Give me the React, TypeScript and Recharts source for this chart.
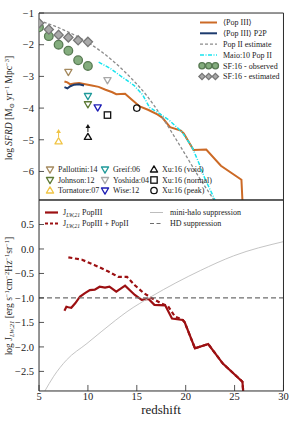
import React from 'react';
import { ComposedChart, Line, Scatter, XAxis, YAxis, ReferenceLine } from 'recharts';

const FONT = "'Liberation Serif', 'DejaVu Serif', serif";
const INK = '#2b2b2b';

const ORANGE = '#cc6a26';
const NAVY = '#1d3b6e';
const GREY_DASH = '#8c8c8c';
const CYAN = '#18e4ee';
const RED = '#9c1012';
const MINIHALO = '#bdbdbd';
const HD_GREY = '#6e6e6e';

// redshift axis, shared by both panels
const Z_DOMAIN = [5, 30];
const Z_MAJOR = [5, 10, 15, 20, 25, 30];
const Z_MINOR = [6, 7, 8, 9, 11, 12, 13, 14, 16, 17, 18, 19, 21, 22, 23, 24, 26, 27, 28, 29];

const steps = (from: number, to: number, step: number) => {
  const out: number[] = [];
  for (let i = 0; from + i * step <= to + 1e-9; i++) out.push(+(from + i * step).toFixed(2));
  return out;
};

// top panel: log SFRD
const SFRD_DOMAIN = [-6.9, -1];
const SFRD_MAJOR = [-6, -5, -4, -3, -2, -1];
const SFRD_MINOR = steps(-6.8, -1.2, 0.2);

// bottom panel: log J_LW,21
const J_DOMAIN = [-2.9, 1.0];
const J_MAJOR = [-2.5, -2, -1.5, -1, -0.5, 0, 0.5];
const J_MINOR = steps(-2.9, 1.0, 0.1);
const HD_LEVEL = -1.0;

// <Pop III>
const popIII = [
  { z: 7.6, v: -3.16 }, { z: 7.9, v: -3.19 }, { z: 8.2, v: -3.25 }, { z: 8.6, v: -3.22 },
  { z: 9.1, v: -3.21 }, { z: 9.6, v: -3.24 }, { z: 10.4, v: -3.29 }, { z: 11.1, v: -3.33 },
  { z: 11.8, v: -3.42 }, { z: 12.5, v: -3.5 }, { z: 12.9, v: -3.56 }, { z: 13.8, v: -3.55 },
  { z: 14.5, v: -3.74 }, { z: 15.3, v: -3.95 }, { z: 16.2, v: -4.06 }, { z: 17.1, v: -4.2 },
  { z: 17.6, v: -4.3 }, { z: 18.4, v: -4.6 }, { z: 19.5, v: -4.71 }, { z: 19.8, v: -4.8 },
  { z: 20.8, v: -5.32 }, { z: 22.1, v: -5.31 }, { z: 23.6, v: -5.82 }, { z: 25.7, v: -6.26 },
  { z: 25.8, v: -6.9 },
];
// <Pop III> P2P
const popIIIp2p = [
  { z: 7.6, v: -3.34 }, { z: 7.9, v: -3.38 }, { z: 8.2, v: -3.31 }, { z: 8.6, v: -3.26 },
  { z: 9.1, v: -3.25 }, { z: 9.6, v: -3.29 },
];
// Pop II estimate
const popIIEstimate = [
  { z: 5, v: -1.24 }, { z: 6.5, v: -1.4 }, { z: 8, v: -1.6 }, { z: 9.6, v: -1.86 },
  { z: 11.3, v: -2.2 }, { z: 12.7, v: -2.55 }, { z: 14.5, v: -3.08 }, { z: 16, v: -3.6 },
  { z: 17.4, v: -4.2 }, { z: 19.6, v: -5.28 }, { z: 21.3, v: -6.15 }, { z: 22.9, v: -6.9 },
];
// Maio:10 Pop II
const maio10 = [
  { z: 11.1, v: -2.55 }, { z: 12.3, v: -2.75 }, { z: 13.5, v: -3.02 }, { z: 14.7, v: -3.28 },
  { z: 15.6, v: -3.58 }, { z: 16.3, v: -3.98 }, { z: 17.2, v: -4.15 }, { z: 18.3, v: -4.38 },
  { z: 19.6, v: -4.75 }, { z: 20.6, v: -5.2 }, { z: 21.2, v: -5.62 }, { z: 22.0, v: -6.25 },
  { z: 23.0, v: -6.9 },
];
const sf16Observed = [
  { z: 5, v: -1.45 }, { z: 6, v: -1.73 }, { z: 7, v: -2.0 }, { z: 8, v: -2.19 }, { z: 9, v: -2.49 }, { z: 10, v: -2.67 },
];
const sf16Estimated = [
  { z: 5, v: -1.32 }, { z: 6, v: -1.52 }, { z: 7, v: -1.69 }, { z: 8, v: -1.77 }, { z: 9, v: -1.86 }, { z: 10, v: -1.91 },
];
const pallottini14 = [{ z: 8, v: -2.86 }];
const johnson12 = [{ z: 10, v: -3.88 }];
const tornatore07 = [{ z: 7, v: -5.05 }];
const tornatore07Arrow = [{ z: 7, v: -4.66 }];
const greif06 = [{ z: 10, v: -3.62 }];
const yoshida04 = [{ z: 12, v: -3.12 }];
const wise12 = [{ z: 11, v: -3.98 }];
const xuVoid = [{ z: 10, v: -4.91 }];
const xuVoidArrow = [{ z: 10, v: -4.5 }];
const xuNormal = [{ z: 12, v: -4.22 }];
const xuPeak = [{ z: 15, v: -4.0 }];

// J_LW,21 PopIII
const jPopIII = [
  { z: 7.6, v: -1.26 }, { z: 7.8, v: -1.18 }, { z: 8.0, v: -1.19 }, { z: 8.3, v: -1.2 },
  { z: 8.7, v: -1.11 }, { z: 9.2, v: -0.97 }, { z: 9.7, v: -0.9 }, { z: 10.2, v: -0.84 },
  { z: 10.7, v: -0.83 }, { z: 11.2, v: -0.77 }, { z: 11.75, v: -0.79 }, { z: 12.2, v: -0.77 },
  { z: 12.9, v: -0.87 }, { z: 13.8, v: -0.75 }, { z: 14.8, v: -0.94 }, { z: 15.5, v: -1.04 },
  { z: 16.2, v: -1.02 }, { z: 16.8, v: -1.14 }, { z: 17.9, v: -1.15 }, { z: 18.6, v: -1.42 },
  { z: 19.7, v: -1.45 }, { z: 19.9, v: -1.5 }, { z: 20.95, v: -2.03 }, { z: 22.3, v: -1.94 },
  { z: 23.8, v: -2.34 }, { z: 25.8, v: -2.71 }, { z: 25.9, v: -2.95 },
];
// J_LW,21 PopIII + PopII
const jPopIIIplusII = [
  { z: 8.0, v: -0.17 }, { z: 9.4, v: -0.22 }, { z: 10.7, v: -0.33 }, { z: 12.1, v: -0.46 },
  { z: 13.1, v: -0.57 }, { z: 14.0, v: -0.57 }, { z: 14.8, v: -0.74 }, { z: 15.7, v: -0.9 },
  { z: 16.5, v: -1.0 }, { z: 17.5, v: -1.11 }, { z: 18.2, v: -1.17 }, { z: 18.9, v: -1.38 },
  { z: 19.7, v: -1.45 }, { z: 19.9, v: -1.5 }, { z: 20.95, v: -2.03 }, { z: 22.3, v: -1.94 },
  { z: 23.8, v: -2.34 }, { z: 25.8, v: -2.71 }, { z: 25.9, v: -2.95 },
];
// mini-halo suppression
const miniHalo = [
  { z: 5.6, v: -2.9 }, { z: 6.5, v: -2.6 }, { z: 7.8, v: -2.27 }, { z: 9.9, v: -1.93 },
  { z: 12.8, v: -1.46 }, { z: 14, v: -1.28 }, { z: 16.5, v: -0.97 }, { z: 21.5, v: -0.44 },
  { z: 24.9, v: -0.14 }, { z: 30, v: 0.15 },
];

type Mk = { kind: string; color: string; fill?: string; r: number };
const MK: Record<string, Mk> = {
  sfObs: { kind: 'circle', color: '#587a53', fill: '#84ad7e', r: 4.3 },
  sfEst: { kind: 'diamond', color: '#777', fill: '#a9a9a9', r: 4.6 },
  pallottini: { kind: 'tdown', color: '#a58a5f', r: 3.6 },
  johnson: { kind: 'tdown', color: '#5e7a35', r: 3.6 },
  tornatore: { kind: 'tup', color: '#f0c445', r: 3.6 },
  greif: { kind: 'tdown', color: '#1f9a9a', r: 3.6 },
  yoshida: { kind: 'tdown', color: '#a8a8a8', r: 3.6 },
  wise: { kind: 'tdown', color: '#1c1cb4', r: 3.6 },
  xuVoid: { kind: 'tup', color: '#111', r: 3.6 },
  xuNormal: { kind: 'square', color: '#111', r: 3.2 },
  xuPeak: { kind: 'circle', color: '#111', r: 3.2 },
  tornArrow: { kind: 'arrow', color: '#f0c445', r: 2.4 },
  xuArrow: { kind: 'arrow', color: '#111', r: 2.4 },
};

function marker(m: Mk, cx: number, cy: number, scale = 1) {
  const r = m.r * scale;
  const fill = m.fill ?? 'none';
  const sw = 1.3;
  switch (m.kind) {
    case 'circle':
      return <circle cx={cx} cy={cy} r={r} fill={fill} stroke={m.color} strokeWidth={sw} />;
    case 'diamond':
      return <polygon points={`${cx},${cy - r} ${cx + r},${cy} ${cx},${cy + r} ${cx - r},${cy}`} fill={fill} stroke={m.color} strokeWidth={sw} />;
    case 'tdown':
      return <polygon points={`${cx - r},${cy - r * 0.7} ${cx + r},${cy - r * 0.7} ${cx},${cy + r}`} fill="none" stroke={m.color} strokeWidth={sw} strokeLinejoin="round" />;
    case 'tup':
      return <polygon points={`${cx - r},${cy + r * 0.7} ${cx + r},${cy + r * 0.7} ${cx},${cy - r}`} fill="none" stroke={m.color} strokeWidth={sw} strokeLinejoin="round" />;
    case 'square':
      return <rect x={cx - r} y={cy - r} width={2 * r} height={2 * r} fill="none" stroke={m.color} strokeWidth={sw} />;
    case 'arrow':
      return (
        <g>
          <line x1={cx} y1={cy + 3} x2={cx} y2={cy + 8} stroke={m.color} strokeWidth={1} />
          <polygon points={`${cx},${cy} ${cx - r},${cy + 4} ${cx + r},${cy + 4}`} fill={m.color} />
        </g>
      );
    default:
      return <g />;
  }
}

const shapeOf = (m: Mk) => (p: any) => marker(m, p.cx, p.cy);

const fmtInt = (v: number) => (v < 0 ? '\u2212' : '') + Math.abs(v).toFixed(0);
const fmtOne = (v: number) => (v < 0 ? '\u2212' : '') + Math.abs(v).toFixed(1);

// axes get a tiny (non-zero) size so they draw without eating plot space;
// negative tickSize puts the ticks inside the frame
function frameAxes(yDomain: number[], yMajor: number[], yMinor: number[], yFmt: (v: number) => string, zLabels: boolean) {
  const axisLine = { stroke: INK, strokeWidth: 1 };
  const tickLine = { stroke: INK, strokeWidth: 0.8 };
  const label = { fill: '#222', fontSize: 10.5, fontFamily: FONT };
  const zc = { type: 'number' as const, domain: Z_DOMAIN, allowDataOverflow: true, height: 0.01, interval: 0 as const };
  const yc = { type: 'number' as const, domain: yDomain, allowDataOverflow: true, width: 0.01, interval: 0 as const };
  return [
    <XAxis key="zb" {...zc} dataKey="z" ticks={Z_MAJOR} tickSize={-6} tickMargin={8} axisLine={axisLine} tickLine={tickLine} tick={zLabels ? label : false} />,
    <XAxis key="zb2" xAxisId="zb2" {...zc} ticks={Z_MINOR} tickSize={-3} axisLine={false} tickLine={tickLine} tick={false} />,
    <XAxis key="zt" xAxisId="zt" orientation="top" {...zc} ticks={Z_MAJOR} tickSize={-6} axisLine={axisLine} tickLine={tickLine} tick={false} />,
    <XAxis key="zt2" xAxisId="zt2" orientation="top" {...zc} ticks={Z_MINOR} tickSize={-3} axisLine={false} tickLine={tickLine} tick={false} />,
    <YAxis key="yl" {...yc} dataKey="v" ticks={yMajor} tickSize={-5} tickMargin={10} axisLine={axisLine} tickLine={tickLine} tick={label} tickFormatter={yFmt} />,
    <YAxis key="yl2" yAxisId="yl2" {...yc} ticks={yMinor} tickSize={-2.5} axisLine={false} tickLine={tickLine} tick={false} />,
    <YAxis key="yr" yAxisId="yr" orientation="right" {...yc} ticks={yMajor} tickSize={-5} axisLine={axisLine} tickLine={tickLine} tick={false} />,
    <YAxis key="yr2" yAxisId="yr2" orientation="right" {...yc} ticks={yMinor} tickSize={-2.5} axisLine={false} tickLine={tickLine} tick={false} />,
  ];
}

const lineSeries = { dot: false, activeDot: false, isAnimationActive: false, dataKey: 'v', type: 'linear' as const };

// legend content
const topLegend = [
  { label: '\u27E8Pop III\u27E9', stroke: ORANGE, width: 2, dash: undefined as string | undefined },
  { label: '\u27E8Pop III\u27E9 P2P', stroke: NAVY, width: 2, dash: undefined },
  { label: 'Pop II estimate', stroke: GREY_DASH, width: 1.3, dash: '3 2' },
  { label: 'Maio:10 Pop II', stroke: CYAN, width: 1.5, dash: '4 1.5 1 1.5' },
];
const markerLegend = [
  { label: 'Pallottini:14', mk: 'pallottini', col: 0, row: 0 },
  { label: 'Johnson:12', mk: 'johnson', col: 0, row: 1 },
  { label: 'Tornatore:07', mk: 'tornatore', col: 0, row: 2 },
  { label: 'Greif:06', mk: 'greif', col: 1, row: 0 },
  { label: 'Yoshida:04', mk: 'yoshida', col: 1, row: 1 },
  { label: 'Wise:12', mk: 'wise', col: 1, row: 2 },
  { label: 'Xu:16 (void)', mk: 'xuVoid', col: 2, row: 0 },
  { label: 'Xu:16 (normal)', mk: 'xuNormal', col: 2, row: 1 },
  { label: 'Xu:16 (peak)', mk: 'xuPeak', col: 2, row: 2 },
];

function Overlay() {
  const txt = { fontFamily: FONT, fill: '#222' };
  const colX = [50, 105, 154];
  const rowY = [169.5, 180, 190.5];
  return (
    <svg width={299} height={424} style={{ position: 'absolute', left: 0, top: 0, pointerEvents: 'none' }}>
      {/* y titles */}
      <text transform="translate(12,108) rotate(-90)" textAnchor="middle" fontSize={9.5} {...txt}>
        log <tspan fontStyle="italic">SFRD</tspan> [M<tspan fontSize={6.5} dy={2}>{'\u2299'}</tspan>
        <tspan dy={-2}> yr</tspan><tspan fontSize={6.5} dy={-3.5}>{'\u22121'}</tspan>
        <tspan dy={3.5}> Mpc</tspan><tspan fontSize={6.5} dy={-3.5}>{'\u22123'}</tspan><tspan dy={3.5}>]</tspan>
      </text>
      <text transform="translate(12,296) rotate(-90)" textAnchor="middle" fontSize={9.5} {...txt}>
        log J<tspan fontSize={6.5} fontStyle="italic" dy={2}>LW,21</tspan>
        <tspan dy={-2}> [erg s</tspan><tspan fontSize={6.5} dy={-3.5}>{'\u22121'}</tspan>
        <tspan dy={3.5}>cm</tspan><tspan fontSize={6.5} dy={-3.5}>{'\u22122'}</tspan>
        <tspan dy={3.5}>Hz</tspan><tspan fontSize={6.5} dy={-3.5}>{'\u22121'}</tspan>
        <tspan dy={3.5}>sr</tspan><tspan fontSize={6.5} dy={-3.5}>{'\u22121'}</tspan><tspan dy={3.5}>]</tspan>
      </text>
      <text x={161} y={414} textAnchor="middle" fontSize={13} {...txt}>redshift</text>

      {/* top-right legend */}
      {topLegend.map((e, i) => {
        const y = 22.5 + i * 10.8;
        return (
          <g key={e.label}>
            <line x1={200} x2={217} y1={y} y2={y} stroke={e.stroke} strokeWidth={e.width} strokeDasharray={e.dash} />
            <text x={223} y={y + 2.8} fontSize={8} {...txt}>{e.label}</text>
          </g>
        );
      })}
      {[0, 1, 2].map((k) => <g key={`o${k}`}>{marker(MK.sfObs, 202 + k * 6.7, 22.5 + 4 * 10.8, 0.72)}</g>)}
      <text x={223} y={22.5 + 4 * 10.8 + 2.8} fontSize={8} {...txt}>SF:16 - observed</text>
      {[0, 1, 2].map((k) => <g key={`e${k}`}>{marker(MK.sfEst, 202 + k * 6.7, 22.5 + 5 * 10.8, 0.68)}</g>)}
      <text x={223} y={22.5 + 5 * 10.8 + 2.8} fontSize={8} {...txt}>SF:16 - estimated</text>

      {/* marker legend */}
      {markerLegend.map((e) => (
        <g key={e.label}>
          {marker(MK[e.mk], colX[e.col], rowY[e.row])}
          <text x={colX[e.col] + 8} y={rowY[e.row] + 2.8} fontSize={8} {...txt}>{e.label}</text>
        </g>
      ))}

      {/* bottom legend */}
      <line x1={45} x2={58} y1={212.5} y2={212.5} stroke={RED} strokeWidth={2.2} />
      <text x={63} y={215.3} fontSize={8} {...txt}>J<tspan fontSize={5.5} fontStyle="italic" dy={1.5}>LW,21</tspan><tspan dy={-1.5}> PopIII</tspan></text>
      <line x1={45} x2={58} y1={223.5} y2={223.5} stroke={RED} strokeWidth={2.2} strokeDasharray="3 2" />
      <text x={63} y={226.3} fontSize={8} {...txt}>J<tspan fontSize={5.5} fontStyle="italic" dy={1.5}>LW,21</tspan><tspan dy={-1.5}> PopIII + PopII</tspan></text>
      <line x1={150} x2={163} y1={212.5} y2={212.5} stroke={MINIHALO} strokeWidth={1} />
      <text x={170} y={215.3} fontSize={8} {...txt}>mini-halo suppression</text>
      <line x1={150} x2={163} y1={223.5} y2={223.5} stroke={HD_GREY} strokeWidth={1.2} strokeDasharray="4 2.5" />
      <text x={170} y={226.3} fontSize={8} {...txt}>HD suppression</text>
    </svg>
  );
}

export default function App() {
  return (
    <div style={{ position: 'absolute', left: 0, top: 0, width: 299, height: 424, background: '#fff', fontFamily: FONT }}>
      <div style={{ position: 'absolute', left: 0, top: 0 }}>
        <ComposedChart width={299} height={205} margin={{ top: 13, right: 15.5, bottom: 5, left: 39 }}>
          {frameAxes(SFRD_DOMAIN, SFRD_MAJOR, SFRD_MINOR, fmtInt, false)}
          <Line {...lineSeries} data={popIII} stroke={ORANGE} strokeWidth={2} />
          <Line {...lineSeries} data={popIIIp2p} stroke={NAVY} strokeWidth={2} />
          <Line {...lineSeries} type="monotone" data={popIIEstimate} stroke={GREY_DASH} strokeWidth={1.3} strokeDasharray="3 2" />
          <Line {...lineSeries} data={maio10} stroke={CYAN} strokeWidth={1.5} strokeDasharray="4 1.5 1 1.5" />
          <Scatter data={sf16Observed} dataKey="v" isAnimationActive={false} shape={shapeOf(MK.sfObs)} />
          <Scatter data={sf16Estimated} dataKey="v" isAnimationActive={false} shape={shapeOf(MK.sfEst)} />
          <Scatter data={pallottini14} dataKey="v" isAnimationActive={false} shape={shapeOf(MK.pallottini)} />
          <Scatter data={johnson12} dataKey="v" isAnimationActive={false} shape={shapeOf(MK.johnson)} />
          <Scatter data={tornatore07} dataKey="v" isAnimationActive={false} shape={shapeOf(MK.tornatore)} />
          <Scatter data={tornatore07Arrow} dataKey="v" isAnimationActive={false} shape={shapeOf(MK.tornArrow)} />
          <Scatter data={greif06} dataKey="v" isAnimationActive={false} shape={shapeOf(MK.greif)} />
          <Scatter data={yoshida04} dataKey="v" isAnimationActive={false} shape={shapeOf(MK.yoshida)} />
          <Scatter data={wise12} dataKey="v" isAnimationActive={false} shape={shapeOf(MK.wise)} />
          <Scatter data={xuVoid} dataKey="v" isAnimationActive={false} shape={shapeOf(MK.xuVoid)} />
          <Scatter data={xuVoidArrow} dataKey="v" isAnimationActive={false} shape={shapeOf(MK.xuArrow)} />
          <Scatter data={xuNormal} dataKey="v" isAnimationActive={false} shape={shapeOf(MK.xuNormal)} />
          <Scatter data={xuPeak} dataKey="v" isAnimationActive={false} shape={shapeOf(MK.xuPeak)} />
        </ComposedChart>
      </div>
      <div style={{ position: 'absolute', left: 0, top: 195 }}>
        <ComposedChart width={299} height={229} margin={{ top: 5, right: 15.5, bottom: 33, left: 39 }}>
          {frameAxes(J_DOMAIN, J_MAJOR, J_MINOR, fmtOne, true)}
          <Line {...lineSeries} data={jPopIII} stroke={RED} strokeWidth={2.2} />
          <Line {...lineSeries} data={jPopIIIplusII} stroke={RED} strokeWidth={2.2} strokeDasharray="4 2.7" />
          <Line {...lineSeries} type="monotone" data={miniHalo} stroke={MINIHALO} strokeWidth={0.9} />
          <ReferenceLine y={HD_LEVEL} stroke={HD_GREY} strokeWidth={1.2} strokeDasharray="5 3" />
        </ComposedChart>
      </div>
      <Overlay />
    </div>
  );
}
